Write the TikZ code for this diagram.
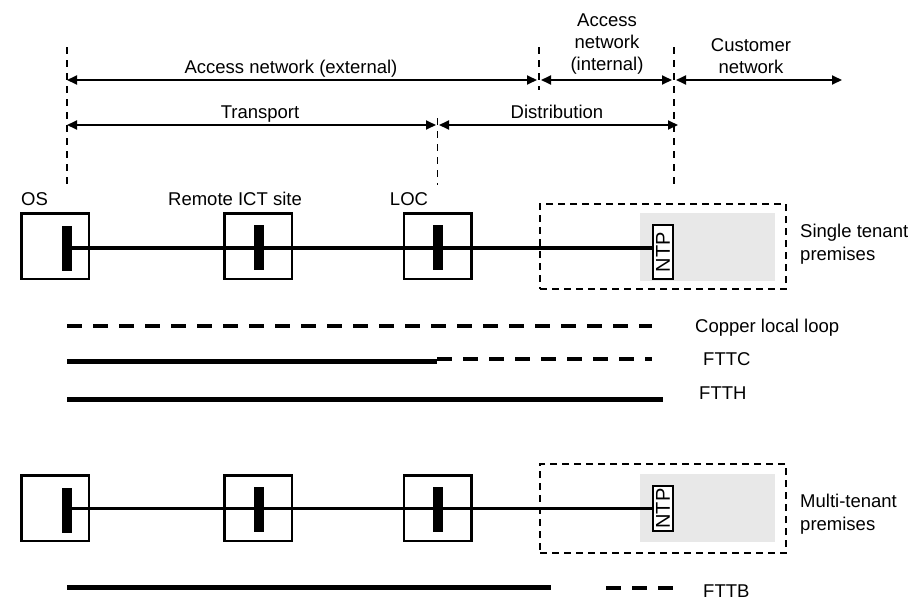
\documentclass[tikz,border=0pt]{standalone}
\usepackage{fontspec}
\setmainfont{Liberation Sans}
\usetikzlibrary{arrows.meta}

\begin{document}
\begin{tikzpicture}[x=1pt,y=-1pt,
every node/.style={font=\fontsize{18.5}{22}\selectfont,inner sep=0pt},
site/.style={%
draw,line width=2.5pt,
minimum width=67.5pt,
minimum height=65.5pt
},
bar/.style={fill=black,minimum width=10pt,minimum height=45pt},
ntp/.style={%
draw,fill=white,line width=1.5pt,rotate=90,
minimum height=20pt,
font=\fontsize{20}{22}\selectfont
},
premises/.style={draw,line width=1.8pt,dash pattern=on 7pt off 5pt},
inhouse/.style={fill=black!9},
txt/.style={anchor=base},
txtl/.style={anchor=base west,align=left},
dim/.style={{Triangle[length=10pt,width=9pt]}-{Triangle[length=10pt,width=9pt]},line width=1.8pt},
border/.style={line width=1.5pt,dash pattern=on 7pt off 6pt},
link/.style={line width=3.3pt},
fibre/.style={line width=5pt},
copper/.style={line width=4pt,dash pattern=on 15pt off 11pt}
]
\useasboundingbox (0,0) rectangle (909,600);

% boundaries
\coordinate (b1t) at (67,47);   \coordinate (b1b) at (67,185);
\coordinate (b2t) at (539,47);  \coordinate (b2b) at (539,90);
\coordinate (b3t) at (437.5,118); \coordinate (b3b) at (437.5,185);
\coordinate (b4t) at (674,47);  \coordinate (b4b) at (674,185);
\draw[border] (b1t)--(b1b);
\draw[border] (b2t)--(b2b);
\draw[border] (b3t)--(b3b);
\draw[border] (b4t)--(b4b);

% network sections
\coordinate (ext-l) at (67,80);   \coordinate (ext-r) at (537,80);
\coordinate (int-l) at (541,80);  \coordinate (int-r) at (672,80);
\coordinate (cust-l) at (676,80); \coordinate (cust-r) at (842,80);
\coordinate (tr-l) at (67,125);   \coordinate (tr-r) at (436,125);
\coordinate (dis-l) at (439,125); \coordinate (dis-r) at (678,125);
\draw[dim] (ext-l)--(ext-r);
\draw[dim] (int-l)--(int-r);
\draw[dim] (cust-l)--(cust-r);
\draw[dim] (tr-l)--(tr-r);
\draw[dim] (dis-l)--(dis-r);
\node[txt]at(291,73)(ext){Access network (external)};
\node[align=center]at(607,44)(int){Access\\network\\(internal)};
\node[align=center]at(751,56)(cust){Customer\\network};
\node[txt]at(260,118)(tr){Transport};
\node[txt]at(557,118)(dis){Distribution};

% single tenant
\node[txtl]at(21,205)(os-lbl){OS};
\node[txt]at(235,205)(ict-lbl){Remote ICT site};
\node[txt]at(409,205)(loc-lbl){LOC};
\node[premises,minimum width=246pt,minimum height=85pt]at(663,246.5)(prem1){};
\node[inhouse,minimum width=135pt,minimum height=68pt]at(707.5,247)(home1){};
\node[site]at(55,246)(os1){};
\node[site]at(258,246)(ict1){};
\node[site]at(437.5,246)(loc1){};
\node[bar]at(67,248)(osbar1){};
\node[bar]at(258.5,247.5)(ictbar1){};
\node[bar]at(438,247.5)(locbar1){};
\node[ntp,minimum width=54pt]at(663,252)(ntp1){NTP};
\draw[link] (osbar1.east)--(osbar1.east -| ntp1.north);
\node[txtl]at(800,237)(st1){Single tenant};
\node[txtl]at(800,260)(st2){premises};

% access types
\coordinate (cu-l) at (67,325.5);  \coordinate (cu-r) at (652,325.5);
\coordinate (fc-l) at (67,361);    \coordinate (fc-m) at (437,361);
\coordinate (fc-d) at (437,359);   \coordinate (fc-r) at (652,359);
\coordinate (fh-l) at (67,399);    \coordinate (fh-r) at (663,399);
\draw[copper] (cu-l)--(cu-r);
\draw[fibre] (fc-l)--(fc-m);
\draw[copper] (fc-d)--(fc-r);
\draw[fibre] (fh-l)--(fh-r);
\node[txtl]at(695,332)(cu){Copper local loop};
\node[txtl]at(703,365)(fc){FTTC};
\node[txtl]at(699,399)(fh){FTTH};

% multi tenant
\node[premises,minimum width=246pt,minimum height=89pt]at(663,508.5)(prem2){};
\node[inhouse,minimum width=135pt,minimum height=68pt]at(707.5,508)(home2){};
\node[site]at(55,508)(os2){};
\node[site]at(258,508)(ict2){};
\node[site]at(437.5,508)(loc2){};
\node[bar]at(67,510.5)(osbar2){};
\node[bar]at(258.5,509)(ictbar2){};
\node[bar]at(438,509)(locbar2){};
\node[ntp,minimum width=45pt]at(663,508.5)(ntp2){NTP};
\draw[link] (osbar2.east |- 0,508.5)--(ntp2.north);
\node[txtl]at(800,507)(mt1){Multi-tenant};
\node[txtl]at(800,530)(mt2){premises};

\coordinate (fb-l) at (67,587);  \coordinate (fb-m) at (551,587);
\coordinate (fb-d) at (606,588); \coordinate (fb-r) at (673,588);
\draw[fibre] (fb-l)--(fb-m);
\draw[copper] (fb-d)--(fb-r);
\node[txtl]at(703,597)(fb){FTTB};
\end{tikzpicture}
\end{document}
